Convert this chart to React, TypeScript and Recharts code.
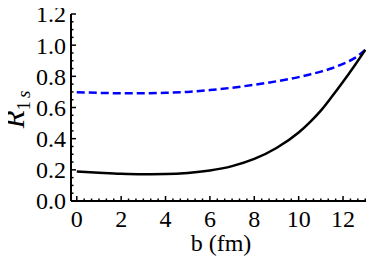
import React from "react";
import { LineChart, Line, XAxis, YAxis } from "recharts";

const bValues = [0, 1, 2, 3, 4, 5, 6, 7, 8, 9, 10, 10.5, 11, 11.5, 12, 12.5, 13];
const blackValues = [0.19, 0.182, 0.175, 0.172, 0.173, 0.18, 0.196, 0.224, 0.27, 0.34, 0.44, 0.505, 0.58, 0.67, 0.765, 0.865, 0.97];
const blueValues = [0.698, 0.694, 0.691, 0.691, 0.694, 0.7, 0.712, 0.727, 0.746, 0.768, 0.795, 0.812, 0.83, 0.852, 0.88, 0.915, 0.97];

const xMajor = [0, 2, 4, 6, 8, 10, 12];
const yMajor = [0, 0.2, 0.4, 0.6, 0.8, 1.0, 1.2];
const xDomain: [number, number] = [-0.26, 13.26];
const yDomain: [number, number] = [0, 1.2];

const xTicks: number[] = [];
for (let i = 0; i <= 39; i++) xTicks.push(+(i / 3).toFixed(4));
const yTicks: number[] = [];
for (let i = 0; i <= 24; i++) yTicks.push(+(i * 0.05).toFixed(4));

const data = bValues.map((b, i) => ({ b, black: blackValues[i], blue: blueValues[i] }));

const FONT = '"Liberation Serif", "Times New Roman", Times, "DejaVu Serif", serif';
const txt = { fontFamily: FONT } as React.CSSProperties;
const isMajorX = (v: number) => xMajor.some((m) => Math.abs(m - v) < 1e-6);
const isMajorY = (v: number) => yMajor.some((m) => Math.abs(m - v) < 1e-6);

const BottomTick = (props: any) => {
  const { x, y, payload } = props;
  const major = isMajorX(payload.value);
  return (
    <g>
      <line x1={x} x2={x} y1={y} y2={y - (major ? 5 : 2.5)} stroke="#000" strokeWidth={1.5} />
      {major && (
        <text x={x} y={y + 26} textAnchor="middle" style={txt} fontSize={24} fill="#000">
          {String(payload.value)}
        </text>
      )}
    </g>
  );
};

const TopTick = (props: any) => {
  const { x, y, payload } = props;
  const major = isMajorX(payload.value);
  return <line x1={x} x2={x} y1={y} y2={y + (major ? 5 : 2.5)} stroke="#000" strokeWidth={1.5} />;
};

const LeftTick = (props: any) => {
  const { x, y, payload } = props;
  const major = isMajorY(payload.value);
  return (
    <g>
      <line x1={x} x2={x + (major ? 5 : 2.5)} y1={y} y2={y} stroke="#000" strokeWidth={1.5} />
      {major && (
        <text x={x - 5} y={y} dy="0.35em" textAnchor="end" style={txt} fontSize={24} fill="#000">
          {Number(payload.value).toFixed(1)}
        </text>
      )}
    </g>
  );
};

const RightTick = (props: any) => {
  const { x, y, payload } = props;
  const major = isMajorY(payload.value);
  return <line x1={x} x2={x - (major ? 5 : 2.5)} y1={y} y2={y} stroke="#000" strokeWidth={1.5} />;
};

const XLabel = (props: any) => {
  const vb = props.viewBox;
  return (
    <text x={vb.x + vb.width / 2} y={vb.y + 50} textAnchor="middle" style={txt} fontSize={24} fill="#000">
      b (fm)
    </text>
  );
};

const YLabel = (props: any) => {
  const vb = props.viewBox;
  const cx = vb.x + 16;
  const cy = vb.y + vb.height / 2 + 2;
  return (
    <text
      x={cx}
      y={cy}
      transform={`rotate(-90, ${cx}, ${cy})`}
      textAnchor="middle"
      style={txt}
      fontSize={29}
      fill="#000"
    >
      <tspan fontStyle="italic">R</tspan>
      <tspan fontSize={19} dy={6}>1</tspan>
      <tspan fontSize={19} fontStyle="italic" dx={3}>s</tspan>
    </text>
  );
};

export default function App() {
  return (
    <div style={{ fontFamily: FONT }}>
      <LineChart width={366} height={258} data={data} margin={{ top: 6, right: 3, left: 0, bottom: 0 }} style={txt}>
        <XAxis
          dataKey="b"
          type="number"
          domain={xDomain}
          ticks={xTicks}
          interval={0}
          allowDataOverflow
          height={65}
          tickSize={0}
          tickMargin={0}
          tickLine={false}
          tick={<BottomTick />}
          axisLine={{ stroke: "#000", strokeWidth: 2 }}
          label={<XLabel />}
        />
        <XAxis
          xAxisId="top"
          orientation="top"
          type="number"
          domain={xDomain}
          ticks={xTicks}
          interval={0}
          allowDataOverflow
          height={0}
          tickSize={0}
          tickMargin={0}
          tickLine={false}
          tick={<TopTick />}
          axisLine={{ stroke: "#000", strokeWidth: 2 }}
        />
        <YAxis
          type="number"
          domain={yDomain}
          ticks={yTicks}
          interval={0}
          allowDataOverflow
          width={63}
          tickSize={0}
          tickMargin={0}
          tickLine={false}
          tick={<LeftTick />}
          axisLine={{ stroke: "#000", strokeWidth: 2 }}
          label={<YLabel />}
        />
        <YAxis
          yAxisId="right"
          orientation="right"
          type="number"
          domain={yDomain}
          ticks={yTicks}
          interval={0}
          allowDataOverflow
          width={0}
          tickSize={0}
          tickMargin={0}
          tickLine={false}
          tick={<RightTick />}
          axisLine={{ stroke: "#000", strokeWidth: 2 }}
        />
        <Line
          dataKey="blue"
          type="monotone"
          stroke="#0000ff"
          strokeWidth={2.5}
          strokeDasharray="8 4"
          dot={false}
          isAnimationActive={false}
        />
        <Line dataKey="black" type="monotone" stroke="#000" strokeWidth={2.5} dot={false} isAnimationActive={false} />
      </LineChart>
    </div>
  );
}
